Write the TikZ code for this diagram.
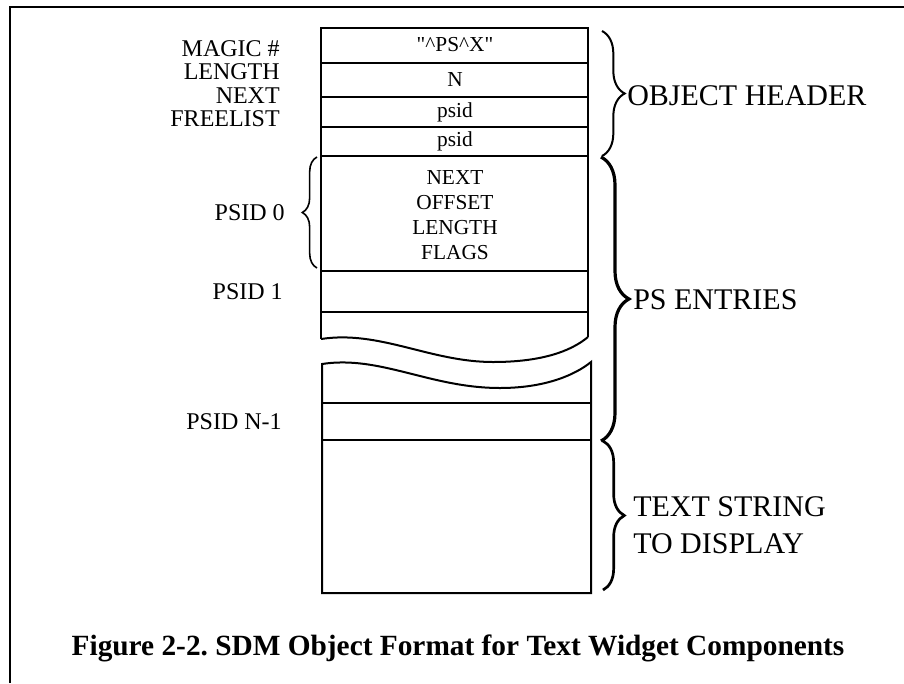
\documentclass[tikz,border=0pt]{standalone}
\usepackage{fontspec}
\setmainfont{Liberation Serif}
\usetikzlibrary{decorations.pathreplacing}
\frenchspacing

\begin{document}
\begin{tikzpicture}[x=0.75pt, y=-0.75pt,
	kasten/.style={line width=1.5pt},
	feld/.style={font=\fontsize{16}{18.75}\selectfont, align=center},
	marke/.style={font=\fontsize{18}{20}\selectfont, anchor=east, inner sep=0pt},
	gruppe/.style={font=\fontsize{22.5}{28}\selectfont, anchor=west, align=left, inner sep=0pt},
	klammer/.style={decorate, decoration={brace, amplitude=#1}}]
%\draw [lightgray](0,0) grid[step=50] (904,683);
\useasboundingbox (0,0) rectangle (904,683);

	% Zeichnet den Rahmen (links und oben)
	\draw[line width=2pt] (10,683) -- (10,7) -- (904,7);

	% Zeichnet den oberen Teil des Objekts
	\draw[kasten] (321,339) -- (321,28) -- (588,28) -- (588,337);
	\foreach \y in {63,97,127,156,271,312}
		\draw[kasten] (321,\y) -- (588,\y);

	% Zeichnet die obere Bruchkante
	\draw[kasten] (321,339) .. controls (380,330) and (430,362) .. (493,362)
		.. controls (540,362) and (570,352) .. (588,337);

	% Zeichnet den unteren Teil mit Bruchkante
	\draw[kasten] (591,362) .. controls (575,375) and (545,388) .. (500,388)
		.. controls (430,388) and (380,355) .. (322,364) -- (322,593) -- (591,593) -- cycle;
	\foreach \y in {403,440}
		\draw[kasten] (322,\y) -- (591,\y);

	% Inhalt der Felder
	\node[feld] (magic) at (455,45) {\textquotedbl\textasciicircum PS\textasciicircum X\textquotedbl};
	\node[feld] (laenge) at (455,80) {N};
	\node[feld] (next) at (455,112) {psid};
	\node[feld] (frei) at (455,141) {psid};
	\node[feld] (eintrag) at (455,215) {NEXT\\OFFSET\\LENGTH\\FLAGS};

	% Beschriftung links
	\node[marke] (l_magic) at (280,49) {MAGIC \#};
	\node[marke] (l_laenge) at (280,72) {LENGTH};
	\node[marke] (l_next) at (280,96) {NEXT};
	\node[marke] (l_frei) at (280,119) {FREELIST};
	\node[marke] (l_psid0) at (285,213) {PSID 0};
	\node[marke] (l_psid1) at (283,292) {PSID 1};
	\node[marke] (l_psidn) at (282,422) {PSID N-1};

	% Klammer um PSID 0
	\draw[klammer=11pt, line width=1.2pt] (317,268) -- (317,157);

	% Klammern rechts
	\draw[klammer=17pt, line width=1.5pt] (602,31) -- (602,156);
	\draw[klammer=21pt, line width=2.4pt] (601,157) -- (601,441);
	\draw[klammer=16pt, line width=2pt] (603,441) -- (603,590);

	% Beschriftung rechts
	\node[gruppe] (kopf) at (627,96) {OBJECT HEADER};
	\node[gruppe] (eintraege) at (633,300) {PS ENTRIES};
	\node[gruppe] (text) at (633,525) {TEXT STRING\\TO DISPLAY};

	% Bildunterschrift
	\node[font=\bfseries\fontsize{22}{26}\selectfont] (titel) at (458,648) {Figure 2-2. SDM Object Format for Text Widget Components};

\end{tikzpicture}
\end{document}
